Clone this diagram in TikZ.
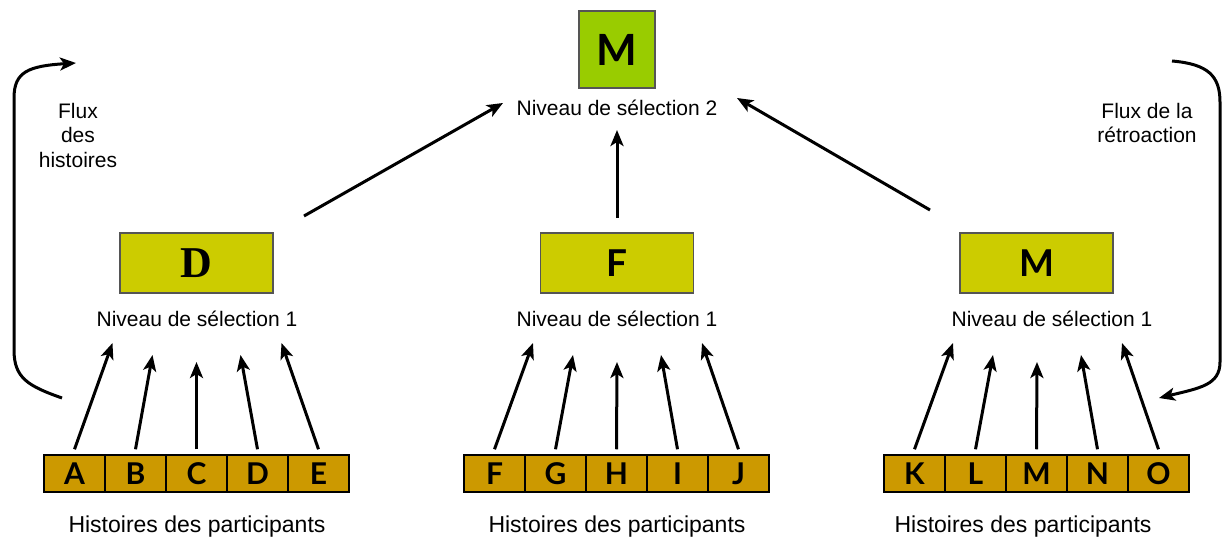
\documentclass[tikz,border=0pt]{standalone}
\usepackage{fontspec}
\setmainfont{Liberation Sans}
\newfontfamily\boxfont{Lato}
\newfontfamily\serifbox{Liberation Serif}
\usetikzlibrary{arrows.meta}
\definecolor{topgreen}{HTML}{99CC00}
\definecolor{midyellow}{HTML}{CCCC00}
\definecolor{cellbrown}{HTML}{CC9900}
\definecolor{boxedge}{HTML}{555555}
\tikzset{
  cell/.style={draw=black, line width=1.5pt, fill=cellbrown, minimum width=61pt, minimum height=37pt, inner sep=0pt,
    font=\boxfont\bfseries\fontsize{30}{30}\selectfont},
  midbox/.style={draw=boxedge, line width=1.2pt, fill=midyellow, minimum width=153pt, minimum height=60pt, inner sep=0pt,
    font=\boxfont\bfseries\fontsize{37}{37}\selectfont},
  topbox/.style={draw=boxedge, line width=1.2pt, fill=topgreen, minimum width=76pt, minimum height=77pt, inner sep=0pt,
    font=\boxfont\bfseries\fontsize{43}{43}\selectfont},
  lbl/.style={anchor=base, inner sep=0pt, font=\fontsize{21}{24}\selectfont},
  hlbl/.style={anchor=base, inner sep=0pt, font=\fontsize{23}{26}\selectfont},
  flux/.style={align=center, inner sep=0pt, font=\fontsize{21}{24.5}\selectfont},
  arr/.style={line width=3pt, -{Stealth[length=16pt,width=13pt,inset=4pt]}},
}
\begin{document}
\begin{tikzpicture}[x=1pt,y=-1pt]
\useasboundingbox (0,0) rectangle (1229,543);

% top
\node[topbox] (top) at (617,49.5) {M};
\node[lbl] (lv2) at (617,115) {Niveau de sélection 2};

% middle boxes
\node[midbox] (mD) at (196.5,263) {\serifbox\bfseries\fontsize{44}{44}\selectfont D};
\node[midbox] (mF) at (617,263) {F};
\node[midbox] (mM) at (1036.5,263) {M};
\node[lbl] (l1a) at (197,326) {Niveau de sélection 1};
\node[lbl] (l1b) at (617,326) {Niveau de sélection 1};
\node[lbl] (l1c) at (1052,326) {Niveau de sélection 1};

% bottom cells
\foreach \n/\x in {A/74.5,B/135.5,C/196.5,D/257.5,E/318.5,
                   F/494.5,G/555.5,H/616.5,I/677.5,J/738.5,
                   K/914.5,L/975.5,M/1036.5,N/1097.5,O/1158.5}
  \node[cell] (c\n) at (\x,473.5) {\n};

\node[hlbl] (h1) at (197,532) {Histoires des participants};
\node[hlbl] (h2) at (617,532) {Histoires des participants};
\node[hlbl] (h3) at (1023,532) {Histoires des participants};

% arrow tips for level 1
\foreach \g/\cx/\a/\b/\c/\d/\e in {a/196.5/A/B/C/D/E, b/617/F/G/H/I/J, c/1037/K/L/M/N/O}{
  \coordinate (t\g1) at (\cx-84,343);
  \coordinate (t\g2) at (\cx-44,355);
  \coordinate (t\g3) at (\cx,362);
  \coordinate (t\g4) at (\cx+44,355);
  \coordinate (t\g5) at (\cx+85,343);
  \draw[arr] ([yshift=5pt]c\a.north) -- (t\g1);
  \draw[arr] ([yshift=5pt]c\b.north) -- (t\g2);
  \draw[arr] ([yshift=5pt]c\c.north) -- (t\g3);
  \draw[arr] ([yshift=5pt]c\d.north) -- (t\g4);
  \draw[arr] ([yshift=5pt]c\e.north) -- (t\g5);
}

% arrows to level 2
\coordinate (s1) at (304,216);
\coordinate (e1) at (503,103);
\coordinate (s2) at (617,218);
\coordinate (e2) at (617,130);
\coordinate (s3) at (930,210);
\coordinate (e3) at (737,98);
\draw[arr] (s1) -- (e1);
\draw[arr] (s2) -- (e2);
\draw[arr] (s3) -- (e3);

% side flows
\node[flux] (fl) at (78,135) {Flux\\des\\histoires};
\node[flux] (fr) at (1147,123) {Flux de la\\rétroaction};

\coordinate (ls) at (62,398);
\coordinate (le) at (76,63);
\draw[arr] (ls) .. controls (28,386) and (14,378) .. (14,350) -- (14,98)
  .. controls (14,72) and (28,66) .. (le);
\coordinate (rs) at (1172,61);
\coordinate (re) at (1159,398);
\draw[arr] (rs) .. controls (1208,64) and (1220,76) .. (1220,102) -- (1220,362)
  .. controls (1220,385) and (1200,388) .. (re);
\end{tikzpicture}
\end{document}
